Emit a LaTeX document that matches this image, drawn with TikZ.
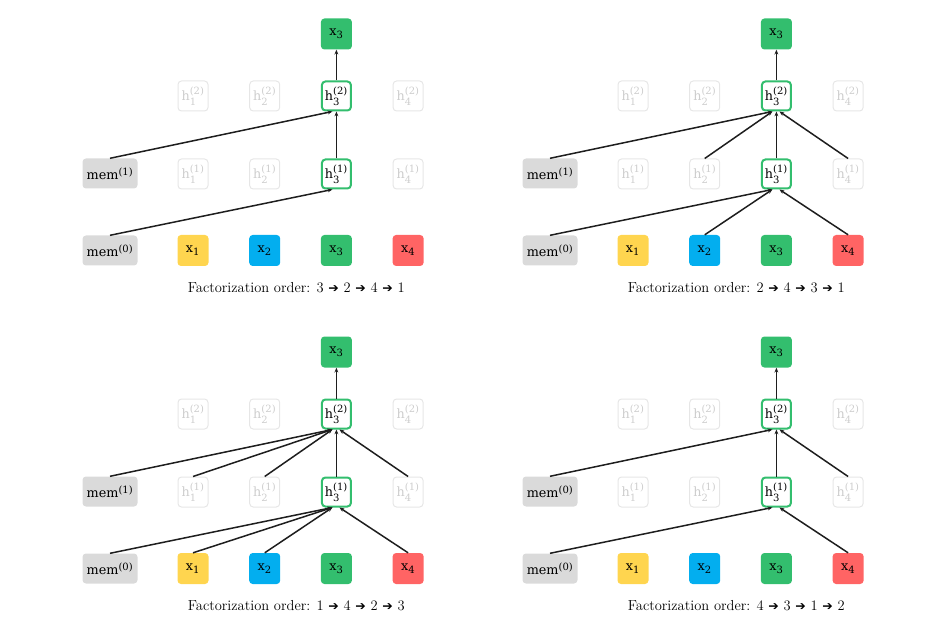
\documentclass[tikz,border=0pt]{standalone}
\usepackage{amsmath}
\usepackage{fontspec}
\newfontfamily\lblfont{DejaVu Serif}
\newfontfamily\symfont{DejaVu Sans}
\usetikzlibrary{arrows.meta,calc}
\definecolor{cyel}{HTML}{FFD54F}
\definecolor{cblu}{HTML}{03AEEF}
\definecolor{cgrn}{HTML}{33BE6E}
\definecolor{cred}{HTML}{FF6464}
\definecolor{cmem}{HTML}{DADADA}
\definecolor{cfadeb}{HTML}{E6E6E6}
\definecolor{cfadet}{HTML}{CDCDCD}
\definecolor{cedge}{HTML}{1E1E1E}
\tikzset{
  box/.style={rounded corners=3.5pt, minimum width=31pt, minimum height=31pt, inner sep=0pt, font=\lblfont\fontsize{12.8}{14}\selectfont},
  tok/.style={box, fill=#1, draw=none},
  memb/.style={box, fill=cmem, minimum width=55pt, minimum height=30pt},
  hfade/.style={box, draw=cfadeb, line width=1pt, text=cfadet, minimum width=30pt, minimum height=30pt},
  hact/.style={box, draw=cgrn, line width=2pt, fill=white, minimum width=29pt, minimum height=29pt},
  edge/.style={draw=cedge, line width=1.5pt, -{Stealth[length=4.8pt,width=3.8pt]}},
  captext/.style={font=\fontsize{14.5}{16}\selectfont}
}
\newcommand\sscr[1]{\text{\fontsize{10}{11}\selectfont #1}}
\newcommand\xl[1]{$\text{x}_{\sscr{#1}}$}
\newcommand\hl[2]{$\text{h}^{\sscr{(#1)}}_{\sscr{#2}}$}
\newcommand\meml[1]{$\text{mem}^{\sscr{(#1)}}$}
\newcommand\arr{{\symfont\fontsize{12.5}{13}\selectfont ➔}}
\newcommand\mkpanel[6]{%
  \begin{scope}[shift={(#1,#2)}]
    \node[tok=cgrn] (#3top) at (336.4,34) {\xl{3}};
    \node[hfade] (#3h21) at (193,96) {\hl{2}{1}};
    \node[hfade] (#3h22) at (264.7,96) {\hl{2}{2}};
    \node[hact]  (#3h23) at (336.4,96) {\hl{2}{3}};
    \node[hfade] (#3h24) at (408.1,96) {\hl{2}{4}};
    \node[memb]  (#3mem1) at (110,173.5) {\meml{#4}};
    \node[hfade] (#3h11) at (193,174) {\hl{1}{1}};
    \node[hfade] (#3h12) at (264.7,174) {\hl{1}{2}};
    \node[hact]  (#3h13) at (336.4,174) {\hl{1}{3}};
    \node[hfade] (#3h14) at (408.1,174) {\hl{1}{4}};
    \node[memb]  (#3mem0) at (110,250.5) {\meml{0}};
    \node[tok=cyel] (#3x1) at (193,250.5) {\xl{1}};
    \node[tok=cblu] (#3x2) at (264.7,250.5) {\xl{2}};
    \node[tok=cgrn] (#3x3) at (336.4,250.5) {\xl{3}};
    \node[tok=cred] (#3x4) at (408.1,250.5) {\xl{4}};
    \node[captext] (#3cap) at (296.3,287.5) {Factorization order: #5 \arr{} #6};
  \end{scope}
  \draw[edge] (#3h13.north) -- (#3h23.south);
  \draw[edge] (#3h23.north) -- (#3top.south);
}
\begin{document}
\begin{tikzpicture}[x=1pt,y=-1pt]
\useasboundingbox (0,0) rectangle (928,617);
% panel A
\mkpanel{0}{0}{A}{1}{3}{2 \arr{} 4 \arr{} 1}
\draw[edge] (Amem0.north) -- ($(Ah13.south)+(-4,0)$);
\draw[edge] (Amem1.north) -- ($(Ah23.south)+(-4,0)$);
% panel B
\mkpanel{440}{0}{B}{1}{2}{4 \arr{} 3 \arr{} 1}
\draw[edge] (Bmem0.north) -- ($(Bh13.south)+(-4,0)$);
\draw[edge] (Bx2.north) -- ($(Bh13.south)+(-4,0)$);
\draw[edge] (Bx4.north) -- ($(Bh13.south)+(3,0)$);
\draw[edge] (Bmem1.north) -- ($(Bh23.south)+(-4,0)$);
\draw[edge] (Bh12.north) -- ($(Bh23.south)+(-4,0)$);
\draw[edge] (Bh14.north) -- ($(Bh23.south)+(3,0)$);
% panel C
\mkpanel{0}{318}{C}{1}{1}{4 \arr{} 2 \arr{} 3}
\draw[edge] (Cmem0.north) -- ($(Ch13.south)+(-4,0)$);
\draw[edge] (Cx1.north) -- ($(Ch13.south)+(-4,0)$);
\draw[edge] (Cx2.north) -- ($(Ch13.south)+(-4,0)$);
\draw[edge] (Cx4.north) -- ($(Ch13.south)+(3,0)$);
\draw[edge] (Cmem1.north) -- ($(Ch23.south)+(-4,0)$);
\draw[edge] (Ch11.north) -- ($(Ch23.south)+(-4,0)$);
\draw[edge] (Ch12.north) -- ($(Ch23.south)+(-4,0)$);
\draw[edge] (Ch14.north) -- ($(Ch23.south)+(3,0)$);
% panel D
\mkpanel{440}{318}{D}{0}{4}{3 \arr{} 1 \arr{} 2}
\draw[edge] (Dmem0.north) -- ($(Dh13.south)+(-4,0)$);
\draw[edge] (Dx4.north) -- ($(Dh13.south)+(3,0)$);
\draw[edge] (Dmem1.north) -- ($(Dh23.south)+(-4,0)$);
\draw[edge] (Dh14.north) -- ($(Dh23.south)+(3,0)$);
\end{tikzpicture}
\end{document}
